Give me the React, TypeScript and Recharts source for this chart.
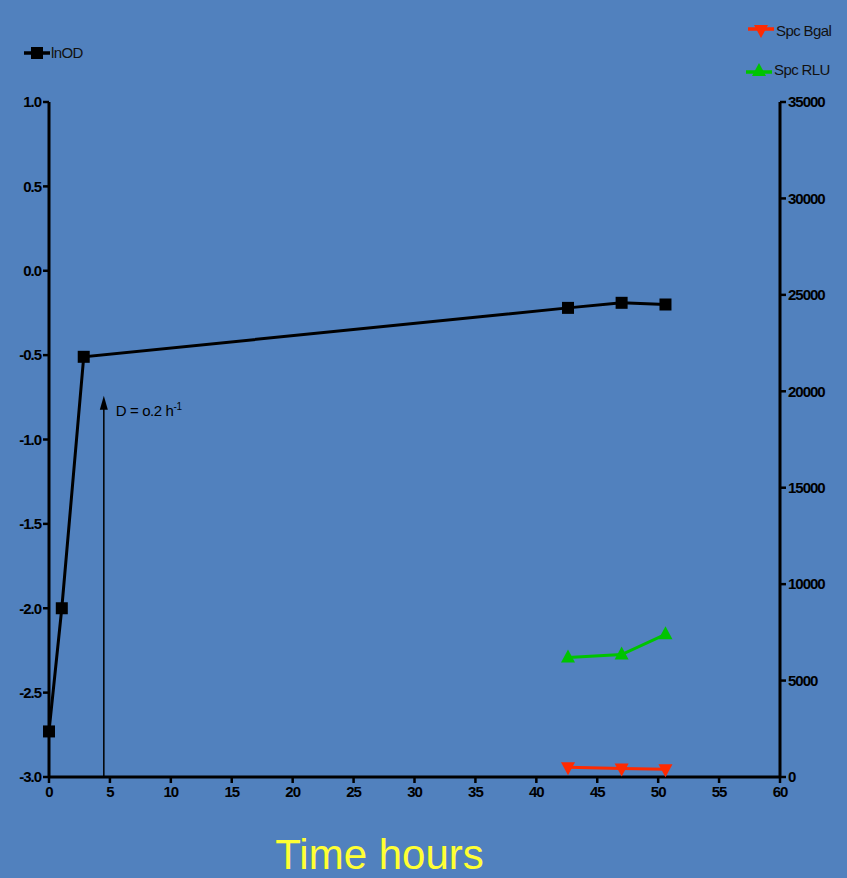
import React from "react";
import {
  LineChart,
  Line,
  XAxis,
  YAxis,
  ReferenceLine,
} from "recharts";

// time points (hours) and readings
const odTimes = [0, 1.05, 2.85, 42.6, 47.0, 50.6];
const lnOD = [-2.73, -2.0, -0.51, -0.22, -0.19, -0.2];

const specTimes = [42.6, 47.0, 50.6];
const spcBgal = [500, 440, 400];
const spcRLU = [6200, 6350, 7400];

const xTicks = [0, 5, 10, 15, 20, 25, 30, 35, 40, 45, 50, 55, 60];
const leftTicks = [-3, -2.5, -2, -1.5, -1, -0.5, 0, 0.5, 1];
const rightTicks = [0, 5000, 10000, 15000, 20000, 25000, 30000, 35000];

const odData = odTimes.map((t, i) => ({ t, lnOD: lnOD[i] }));
const bgalData = specTimes.map((t, i) => ({ t, bgal: spcBgal[i] }));
const rluData = specTimes.map((t, i) => ({ t, rlu: spcRLU[i] }));

const BG = "#5181BE";
const FONT = "'Liberation Sans', Arial, sans-serif";
const tickFont = {
  fontFamily: FONT,
  fontSize: 15,
  fontWeight: "bold",
  fill: "#000",
  letterSpacing: -1,
};

const Square = (props: any) => {
  const { cx, cy } = props;
  if (cx == null || cy == null) return null;
  return <rect x={cx - 6} y={cy - 6} width={12} height={12} fill="#000" />;
};

const TriUp = (color: string) => (props: any) => {
  const { cx, cy } = props;
  if (cx == null || cy == null) return null;
  return <polygon points={`${cx},${cy - 8} ${cx - 7},${cy + 5} ${cx + 7},${cy + 5}`} fill={color} />;
};

const TriDown = (color: string) => (props: any) => {
  const { cx, cy } = props;
  if (cx == null || cy == null) return null;
  return <polygon points={`${cx},${cy + 8} ${cx - 7},${cy - 5} ${cx + 7},${cy - 5}`} fill={color} />;
};

// arrow marking the dilution rate
const ArrowShape = (props: any) => {
  const { x1, y1, y2 } = props;
  const top = Math.min(y1, y2);
  const bottom = Math.max(y1, y2);
  return (
    <g>
      <line x1={x1} y1={bottom} x2={x1} y2={top + 10} stroke="#000" strokeWidth={1.5} />
      <polygon points={`${x1},${top} ${x1 - 4},${top + 14} ${x1 + 4},${top + 14}`} fill="#000" />
      <text x={x1 + 12} y={top + 20} fontFamily={FONT} fontSize={15} fill="#000" letterSpacing={-0.4}>
        D = o.2 h
        <tspan dy={-6} fontSize={10}>-1</tspan>
      </text>
    </g>
  );
};

const LegendBlock = () => {
  const txt: React.CSSProperties = {
    fontFamily: FONT,
    fontSize: 15,
    color: "#111",
    letterSpacing: -0.6,
  };
  return (
    <div style={{ position: "absolute", left: 0, top: 0, width: 847, height: 90, pointerEvents: "none" }}>
      <div style={{ position: "absolute", left: 24, top: 44, display: "flex", alignItems: "center" }}>
        <svg width={26} height={14}>
          <line x1={0} y1={7} x2={26} y2={7} stroke="#000" strokeWidth={3.5} />
          <rect x={7} y={1} width={12} height={12} fill="#000" />
        </svg>
        <span style={{ ...txt, marginLeft: 1 }}>lnOD</span>
      </div>
      <div style={{ position: "absolute", left: 748, top: 22, display: "flex", alignItems: "center" }}>
        <svg width={26} height={14}>
          <line x1={0} y1={5} x2={26} y2={5} stroke="#FF2A00" strokeWidth={3.5} />
          <polygon points="13,14 6,1 20,1" fill="#FF2A00" />
        </svg>
        <span style={{ ...txt, marginLeft: 2 }}>Spc Bgal</span>
      </div>
      <div style={{ position: "absolute", left: 746, top: 61, display: "flex", alignItems: "center" }}>
        <svg width={26} height={14}>
          <line x1={0} y1={9} x2={26} y2={9} stroke="#00C400" strokeWidth={3.5} />
          <polygon points="13,0 6,13 20,13" fill="#00C400" />
        </svg>
        <span style={{ ...txt, marginLeft: 2 }}>Spc RLU</span>
      </div>
    </div>
  );
};

const XLabel = (props: any) => {
  const { viewBox } = props;
  return (
    <text
      x={viewBox.x + viewBox.width / 2 - 35}
      y={viewBox.y + 92}
      textAnchor="middle"
      fontFamily={FONT}
      fontSize={42}
      fill="#FFFF33"
    >
      Time hours
    </text>
  );
};

export default function App() {
  return (
    <div style={{ position: "absolute", left: 0, top: 0, width: 847, height: 878, background: BG }}>
      <LineChart
        width={847}
        height={878}
        margin={{ top: 102, right: 0, bottom: 0, left: 0 }}
      >
        <XAxis
          xAxisId="x"
          dataKey="t"
          type="number"
          domain={[0, 60]}
          ticks={xTicks}
          allowDuplicatedCategory={false}
          height={101}
          stroke="#000"
          strokeWidth={3}
          tickSize={6}
          tickMargin={3}
          tick={tickFont}
          tickLine={{ stroke: "#000", strokeWidth: 2.5 }}
          label={<XLabel />}
        />
        <YAxis
          yAxisId="left"
          orientation="left"
          type="number"
          domain={[-3, 1]}
          ticks={leftTicks}
          width={49}
          stroke="#000"
          strokeWidth={3}
          tickSize={6}
          tickMargin={2}
          tick={tickFont}
          tickLine={{ stroke: "#000", strokeWidth: 2.5 }}
          tickFormatter={(v: number) => v.toFixed(1)}
        />
        <YAxis
          yAxisId="right"
          orientation="right"
          type="number"
          domain={[0, 35000]}
          ticks={rightTicks}
          width={67}
          stroke="#000"
          strokeWidth={3}
          tickSize={6}
          tickMargin={2}
          tick={{ ...tickFont, textAnchor: "start" }}
          tickLine={{ stroke: "#000", strokeWidth: 2.5 }}
        />
        <ReferenceLine
          xAxisId="x"
          yAxisId="left"
          segment={[
            { x: 4.5, y: -3 },
            { x: 4.5, y: -0.74 },
          ]}
          shape={<ArrowShape />}
        />
        <Line
          xAxisId="x"
          yAxisId="left"
          data={odData}
          dataKey="lnOD"
          name="lnOD"
          stroke="#000"
          strokeWidth={3}
          dot={<Square />}
          activeDot={false}
          isAnimationActive={false}
        />
        <Line
          xAxisId="x"
          yAxisId="right"
          data={bgalData}
          dataKey="bgal"
          name="Spc Bgal"
          stroke="#FF2A00"
          strokeWidth={3}
          dot={TriDown("#FF2A00")}
          activeDot={false}
          isAnimationActive={false}
        />
        <Line
          xAxisId="x"
          yAxisId="right"
          data={rluData}
          dataKey="rlu"
          name="Spc RLU"
          stroke="#00C400"
          strokeWidth={3}
          dot={TriUp("#00C400")}
          activeDot={false}
          isAnimationActive={false}
        />
      </LineChart>
      <LegendBlock />
    </div>
  );
}
